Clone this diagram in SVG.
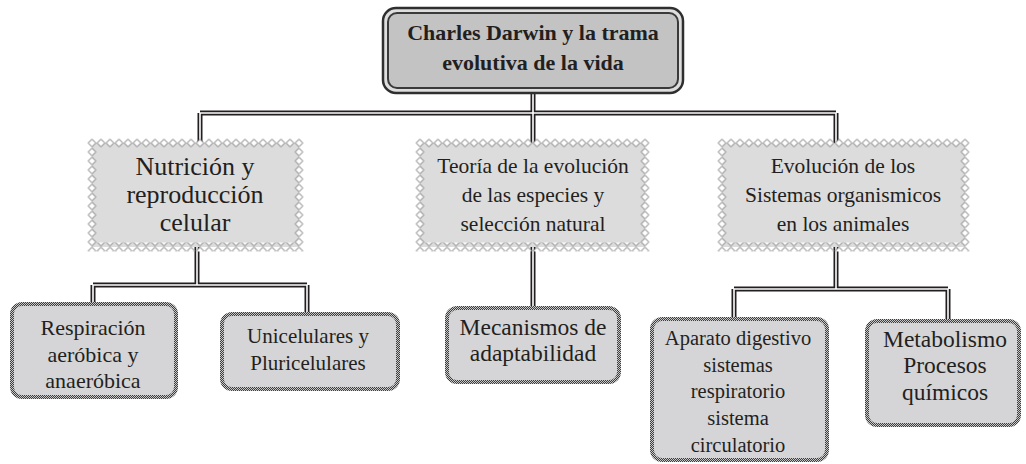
<svg xmlns="http://www.w3.org/2000/svg" width="1026" height="464" viewBox="0 0 1026 464">
<style>
text{font-family:"Liberation Serif","Times New Roman",serif;fill:#231f20;text-anchor:middle}
.t{font-weight:bold;font-size:22px}
.c1{stroke:#231f20;stroke-width:5;fill:none}
.c2{stroke:#fff;stroke-width:1.6;fill:none}
.n2{fill:#dcdcdd}
.n2b{fill:none;stroke:url(#dia);stroke-width:9}
.n3{fill:#d5d5d7;stroke:url(#hatch);stroke-width:4}
</style>
<defs>
<pattern id="dia" patternUnits="userSpaceOnUse" x="-4.5" y="-4.5" width="9" height="9">
<polygon points="4.5,0.7 8.3,4.5 4.5,8.3 0.7,4.5" fill="#fff" stroke="#6e6e6e" stroke-width="1"/>
</pattern>
<pattern id="hatch" patternUnits="userSpaceOnUse" width="2" height="2">
<rect width="2" height="2" fill="#c8c8c8"/>
<path d="M-0.5,2.5 L2.5,-0.5" stroke="#2e2e2e" stroke-width="0.9"/>
</pattern>
</defs>
<rect width="1026" height="464" fill="#fff"/>
<g id="connectors">
<path class="c1" d="M533,93 V113 M200,113 H836 M200,113 V143 M533,113 V143 M836,113 V143 M197,247 V285 M93,285 H307 M93,285 V303 M307,285 V313 M533,247 V307 M836,247 V289 M734,289 H948 M734,289 V318 M948,289 V320"/>
<path class="c2" d="M533,93 V113 M200,113 H836 M200,113 V143 M533,113 V143 M836,113 V143 M197,247 V285 M93,285 H307 M93,285 V303 M307,285 V313 M533,247 V307 M836,247 V289 M734,289 H948 M734,289 V318 M948,289 V320"/>
</g>
<g id="title">
<rect x="383" y="8" width="300" height="85" rx="13" fill="#dedede" stroke="#2f2f2f" stroke-width="2.5"/>
<rect x="388" y="13" width="290" height="75" rx="9" fill="#c3c3c4" stroke="#3a3a3a" stroke-width="2"/>
<text class="t" x="533" y="40">Charles Darwin y la trama</text>
<text class="t" x="533" y="70">evolutiva de la vida</text>
</g>
<g id="nutricion" transform="translate(92,143)">
<rect class="n2" x="0" y="0" width="207" height="104"/>
<rect class="n2b" x="0" y="0" width="207" height="104"/>
<text x="103" y="32" font-size="26">Nutrición y</text>
<text x="103" y="60" font-size="26">reproducción</text>
<text x="103" y="88" font-size="26">celular</text>
</g>
<g id="teoria" transform="translate(420,143)">
<rect class="n2" x="0" y="0" width="225" height="104"/>
<rect class="n2b" x="0" y="0" width="225" height="104"/>
<text x="113" y="30" font-size="21.5">Teoría de la evolución</text>
<text x="113" y="59" font-size="21.5">de las especies y</text>
<text x="113" y="88" font-size="21.5">selección natural</text>
</g>
<g id="evolucion" transform="translate(722,143)">
<rect class="n2" x="0" y="0" width="243" height="104"/>
<rect class="n2b" x="0" y="0" width="243" height="104"/>
<text x="121" y="30" font-size="21.5">Evolución de los</text>
<text x="121" y="59" font-size="21.5">Sistemas organismicos</text>
<text x="121" y="88" font-size="21.5">en los animales</text>
</g>
<g id="respiracion">
<rect class="n3" x="12" y="304" width="164" height="93" rx="10"/>
<text x="93" y="335" font-size="22">Respiración</text>
<text x="93" y="362" font-size="22">aeróbica y</text>
<text x="93" y="388" font-size="22">anaeróbica</text>
</g>
<g id="unicelulares">
<rect class="n3" x="222" y="314" width="176" height="75" rx="10"/>
<text x="308" y="343" font-size="21">Unicelulares y</text>
<text x="308" y="370" font-size="21">Pluricelulares</text>
</g>
<g id="mecanismos">
<rect class="n3" x="447" y="308" width="172" height="74" rx="10"/>
<text x="533" y="335" font-size="23.5">Mecanismos de</text>
<text x="533" y="361" font-size="23.5">adaptabilidad</text>
</g>
<g id="aparato">
<rect class="n3" x="652" y="319" width="175" height="141" rx="10"/>
<text x="738" y="345" font-size="20.5">Aparato digestivo</text>
<text x="738" y="372" font-size="20.5">sistemas</text>
<text x="738" y="398" font-size="20.5">respiratorio</text>
<text x="738" y="425" font-size="20.5">sistema</text>
<text x="738" y="452" font-size="20.5">circulatorio</text>
</g>
<g id="metabolismo">
<rect class="n3" x="867" y="321" width="152" height="104" rx="10"/>
<text x="945" y="347" font-size="23.5">Metabolismo</text>
<text x="945" y="373" font-size="23.5">Procesos</text>
<text x="945" y="400" font-size="23.5">químicos</text>
</g>
</svg>
